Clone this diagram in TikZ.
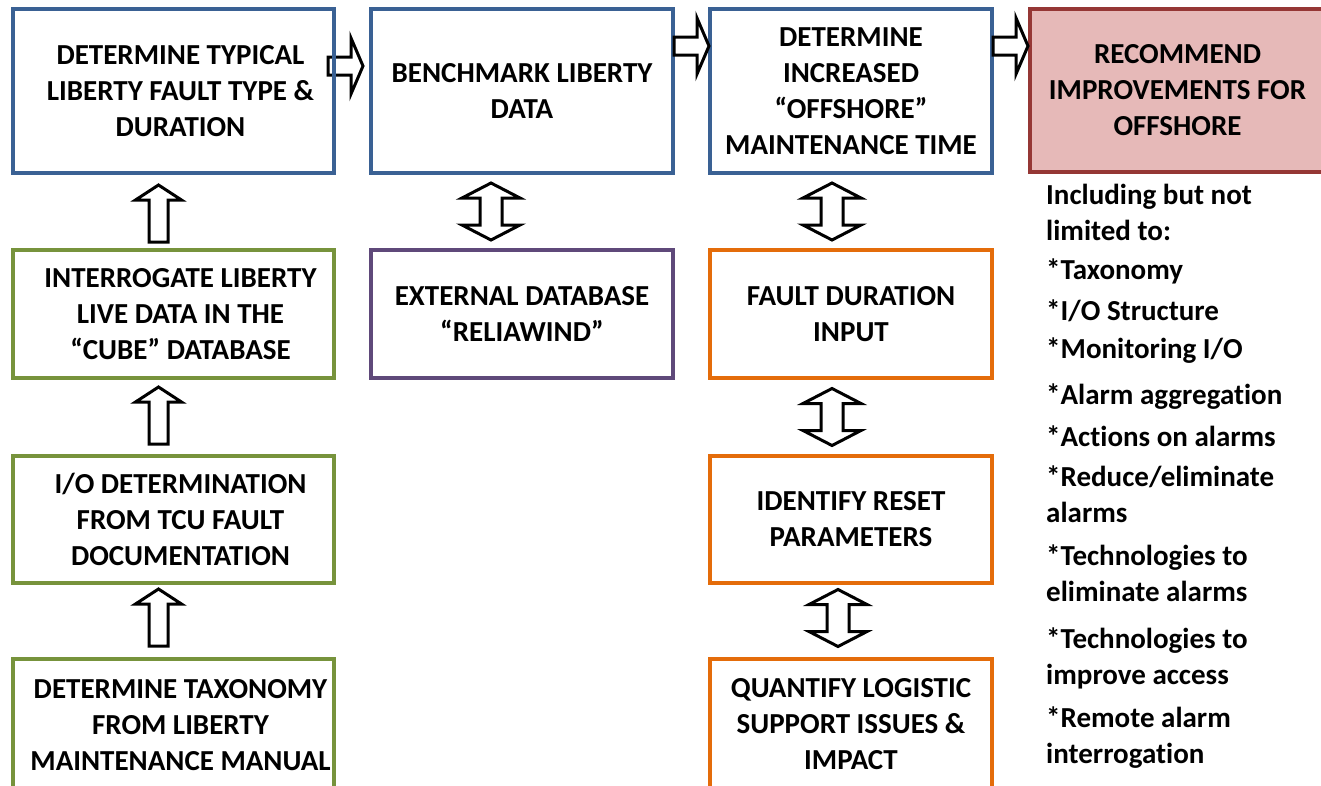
\documentclass[tikz,border=0pt]{standalone}
\usepackage{fontspec}
\setmainfont{Carlito}[Ligatures=NoCommon]
\usetikzlibrary{calc,backgrounds}
\definecolor{cblue}{HTML}{3A6194}
\definecolor{cgreen}{HTML}{77933C}
\definecolor{cpurple}{HTML}{5F497A}
\definecolor{corange}{HTML}{E46C0A}
\definecolor{cred}{HTML}{953735}
\definecolor{cpink}{HTML}{E6B9B8}
\tikzset{
  txt/.style={font=\fontsize{29}{36}\selectfont\bfseries, align=center, inner sep=0pt},
  side/.style={font=\fontsize{29}{36}\selectfont\bfseries, align=left, inner sep=0pt, anchor=west},
  box/.style={draw, line width=4pt, txt},
  bluebox/.style={box, draw=cblue},
  greenbox/.style={box, draw=cgreen},
  purplebox/.style={box, draw=cpurple},
  orangebox/.style={box, draw=corange},
  redbox/.style={box, draw=cred, fill=cpink},
  blk/.style={draw=black, line width=3pt, fill=white, line join=miter},
  rarr/.pic={\path[blk] (0,-9) -- (23,-9) -- (23,-28) -- (35,0) -- (23,28) -- (23,9) -- (0,9) -- cycle;},
  uarr/.pic={\path[blk] (0,0) -- (23,15) -- (9.5,15) -- (9.5,57) -- (-9.5,57) -- (-9.5,15) -- (-23,15) -- cycle;},
  darr/.pic={\path[blk] (0,-28.5) -- (29,-13.5) -- (11,-13.5) -- (11,13.5) -- (29,13.5) -- (0,28.5) -- (-29,13.5) -- (-11,13.5) -- (-11,-13.5) -- (-29,-13.5) -- cycle;}
}
\begin{document}
\begin{tikzpicture}[x=1pt,y=-1pt]
\useasboundingbox (0,0) rectangle (1321,785);
\clip (0,0) rectangle (1321,785);
% column 1
\node[bluebox, minimum width=321pt, minimum height=164pt,
  label={[txt,xshift=7pt]center:DETERMINE TYPICAL\\LIBERTY FAULT TYPE \&\\DURATION}] (a1) at (173.5,91) {};
\node[greenbox, minimum width=321pt, minimum height=128pt,
  label={[txt,xshift=7pt]center:INTERROGATE LIBERTY\\LIVE DATA IN THE\\“CUBE” DATABASE}] (a2) at (173.5,314) {};
\node[greenbox, minimum width=321pt, minimum height=127pt,
  label={[txt,xshift=7pt]center:I/O DETERMINATION\\FROM TCU FAULT\\DOCUMENTATION}] (a3) at (173.5,519.5) {};
\node[greenbox, minimum width=321pt, minimum height=131pt,
  label={[txt,xshift=7pt,yshift=-1pt]center:DETERMINE TAXONOMY\\FROM LIBERTY\\MAINTENANCE MANUAL}] (a4) at (173.5,724.5) {};
% column 2
\node[bluebox, minimum width=302pt, minimum height=164pt] (b1) at (522,91) {BENCHMARK LIBERTY\\DATA};
\node[purplebox, minimum width=302pt, minimum height=128pt] (b2) at (522,314) {EXTERNAL DATABASE\\“RELIAWIND”};
% column 3
\node[bluebox, minimum width=282pt, minimum height=164pt] (c1) at (851,91) {DETERMINE\\INCREASED\\“OFFSHORE”\\MAINTENANCE TIME};
\node[orangebox, minimum width=282pt, minimum height=128pt] (c2) at (851,314) {FAULT DURATION\\INPUT};
\node[orangebox, minimum width=282pt, minimum height=127pt] (c3) at (851,519.5) {IDENTIFY RESET\\PARAMETERS};
\node[orangebox, minimum width=282pt, minimum height=131pt] (c4) at (851,724.5) {QUANTIFY LOGISTIC\\SUPPORT ISSUES \&\\IMPACT};
% column 4
\node[redbox, minimum width=295pt, minimum height=163pt] (d1) at (1177.5,90.5) {RECOMMEND\\IMPROVEMENTS FOR\\OFFSHORE};
% side list
\node[side] (l0) at (1046,212) {Including but not\\limited to:};
\node[side] (l1) at (1046,271) {*Taxonomy};
\node[side] (l2) at (1046,311) {*I/O Structure};
\node[side] (l3) at (1046,351) {*Monitoring I/O};
\node[side] (l4) at (1046,397) {*Alarm aggregation};
\node[side] (l5) at (1046,436) {*Actions on alarms};
\node[side] (l6) at (1046,494) {*Reduce/eliminate\\alarms};
\node[side] (l7) at (1046,573.5) {*Technologies to\\eliminate alarms};
\node[side] (l8) at (1046,658) {*Technologies to\\improve access};
\node[side] (l9) at (1046,738) {*Remote alarm\\interrogation};
% connectors
\begin{scope}[on background layer]
\pic at ($(a1.east)+(-8,-25)$) {rarr};
\end{scope}
\pic at ($(b1.east)+(-1,-45)$) {rarr};
\pic at ($(c1.east)+(-1,-45)$) {rarr};
\pic at ($(a1.south)+(-15,10)$) {uarr};
\pic at ($(a2.south)+(-15,7)$) {uarr};
\pic at ($(a3.south)+(-15,4)$) {uarr};
\pic at ($($(b1.south)!0.5!(b2.north)$)+(-31,0)$) {darr};
\pic at ($($(c1.south)!0.5!(c2.north)$)+(-19,0)$) {darr};
\pic at ($($(c2.south)!0.5!(c3.north)$)+(-19,0)$) {darr};
\pic at ($($(c3.south)!0.5!(c4.north)$)+(-13,-3)$) {darr};
\end{tikzpicture}
\end{document}
